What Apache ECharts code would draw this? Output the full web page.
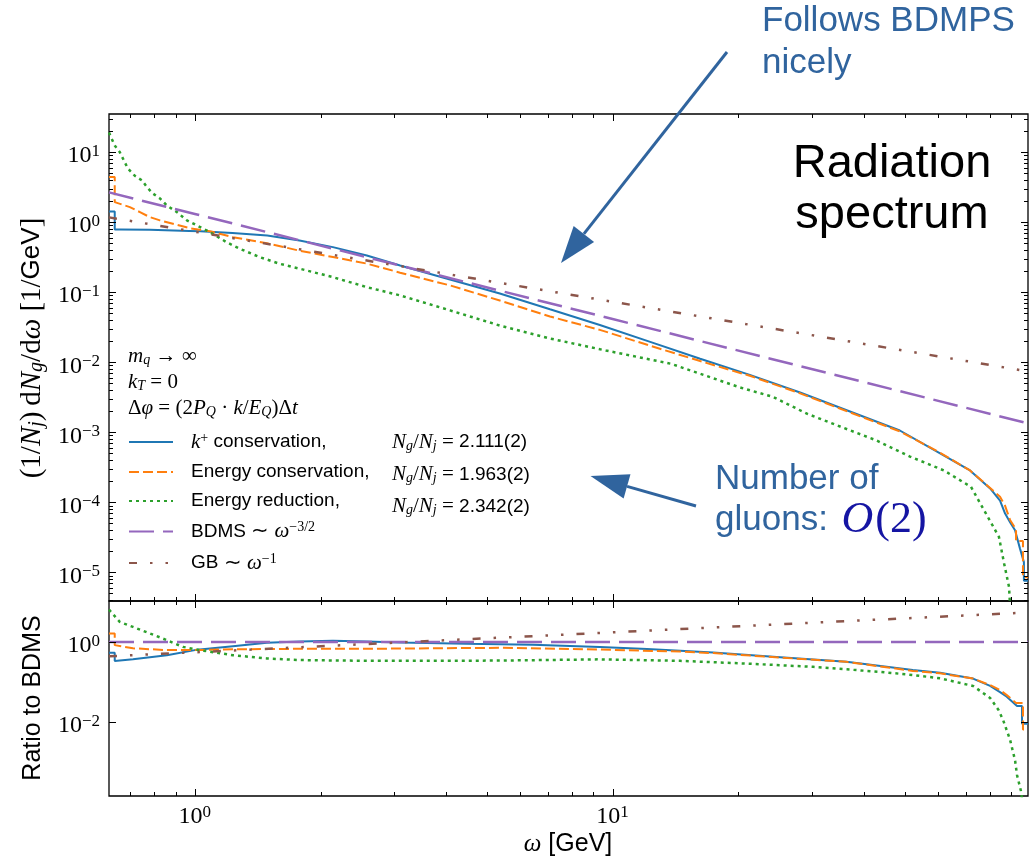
<!DOCTYPE html>
<html>
<head>
<meta charset="utf-8">
<title>Radiation spectrum</title>
<script src="https://cdn.jsdelivr.net/npm/echarts@6/dist/echarts.min.js"></script>
<style>
html, body { margin: 0; padding: 0; background: #fff; }
#container { width: 1036px; height: 859px; }
</style>
</head>
<body>
<div id="container"></div>
<script>
var dom = document.getElementById("container");
var myChart = echarts.init(dom);

// axis ranges
var omegaMin = 0.623, omegaMax = 98.7;
var specMin = 3.9e-6, specMax = 35;
var ratioMin = 1.4e-4, ratioMax = 10.7;

// labelled ticks
var omegaTicks = [1, 10];
var specTicks = [1e-5, 1e-4, 1e-3, 1e-2, 1e-1, 1, 10];
var ratioTicks = [1e-2, 1];
var minorSubs = [2, 3, 4, 5, 6, 7, 8, 9];
var omegaDecades = [0.1, 1, 10];
var specDecades = [1e-6, 1e-5, 1e-4, 1e-3, 1e-2, 1e-1, 1, 10];

// spectrum panel  (omega in GeV, value in 1/GeV)
var blueOmega = [0.623, 0.643, 0.643, 0.661, 0.78, 0.97, 1.03, 1.23, 1.49, 1.78, 2.14, 2.58, 3.1, 4.08, 5.37, 7.08, 9.32, 12.3, 16.2, 21.3, 28.1, 37, 48.7, 60.8, 71.7, 80.1, 84.6, 87, 89.4, 91.9, 94.4, 96.5, 96.5, 98.7];
var blueSpec = [1.42, 1.42, 0.786, 0.786, 0.78, 0.75, 0.74, 0.70, 0.645, 0.548, 0.44, 0.334, 0.24, 0.152, 0.096, 0.057, 0.034, 0.0195, 0.0112, 0.0066, 0.0037, 0.00198, 0.00106, 0.0005, 0.000285, 0.000158, 0.000106, 0.000069, 0.000052, 0.00004, 0.000022, 0.000014, 0.0000076, 0.0000076];

var orangeOmega = [0.623, 0.643, 0.643, 0.699, 0.739, 0.78, 0.825, 0.886, 0.973, 1.086, 1.233, 1.487, 1.784, 2.14, 2.58, 3.1, 4.08, 5.37, 7.08, 9.32, 12.3, 16.2, 21.3, 28.1, 37, 48.7, 60.8, 71.7, 80.1, 84.6, 87, 89.4, 92.4, 92.4, 96, 96, 98.7];
var orangeSpec = [4.4, 4.4, 1.93, 1.64, 1.39, 1.18, 1.06, 0.95, 0.82, 0.74, 0.61, 0.50, 0.39, 0.318, 0.256, 0.19, 0.125, 0.076, 0.045, 0.029, 0.0172, 0.0104, 0.0064, 0.0036, 0.00192, 0.00103, 0.00051, 0.000285, 0.00016, 0.00012, 0.000089, 0.000056, 0.000041, 0.000028, 0.000028, 0.0000085, 0.0000085];

var greenOmega = [0.623, 0.643, 0.661, 0.691, 0.718, 0.747, 0.768, 0.793, 0.825, 0.857, 0.906, 0.957, 1.011, 1.086, 1.191, 1.281, 1.431, 1.598, 1.784, 2.14, 2.58, 3.1, 4.08, 5.37, 7.08, 9.64, 13.8, 20.1, 24.2, 29.2, 35.4, 42.7, 51.5, 62.1, 72.1, 79.2, 84.1, 86.5, 88.9, 90.4];
var greenSpec = [19, 12.4, 10, 5.85, 4.6, 3.95, 3.16, 2.57, 2.18, 1.73, 1.39, 1.06, 0.9, 0.72, 0.518, 0.417, 0.316, 0.254, 0.216, 0.164, 0.118, 0.09, 0.055, 0.0334, 0.0218, 0.0147, 0.0095, 0.0044, 0.0032, 0.00184, 0.00118, 0.00077, 0.00045, 0.000285, 0.000166, 0.000061, 0.000032, 0.0000135, 0.0000062, 0.000001];

var bdmsOmega = [0.623, 1, 10, 98.7];
var bdmsSpec = [2.66, 1.31, 0.0414, 0.00134];
var gbOmega = [0.623, 1, 10, 98.7];
var gbSpec = [1.17, 0.73, 0.073, 0.0074];

// ratio panel
var blueRatioOmega = [0.623, 0.643, 0.643, 0.711, 0.857, 1.0, 1.233, 1.487, 1.784, 2.14, 2.58, 3.1, 4.47, 6.44, 9.32, 12.09, 17.4, 25.2, 36.3, 52.3, 60.8, 72.9, 80.1, 84.6, 87.8, 92.9, 95.5, 95.5, 98.7];
var blueRatio = [0.54, 0.54, 0.335, 0.37, 0.47, 0.63, 0.79, 0.96, 1.04, 1.08, 1.04, 0.98, 0.91, 0.86, 0.75, 0.67, 0.55, 0.42, 0.32, 0.2, 0.17, 0.122, 0.08, 0.056, 0.043, 0.025, 0.025, 0.009, 0.009];

var orangeRatioOmega = [0.623, 0.643, 0.643, 0.711, 0.857, 1.0, 1.233, 1.784, 2.58, 3.71, 5.37, 9.32, 14.5, 17.4, 25.2, 36.3, 52.3, 60.8, 72.9, 80.1, 84.6, 87.8, 92.4, 96, 96, 98.7];
var orangeRatio = [1.65, 1.65, 0.84, 0.70, 0.63, 0.63, 0.66, 0.68, 0.68, 0.70, 0.72, 0.65, 0.58, 0.53, 0.41, 0.32, 0.19, 0.165, 0.122, 0.084, 0.063, 0.047, 0.03, 0.03, 0.0065, 0.0065];

var greenRatioOmega = [0.623, 0.661, 0.711, 0.78, 0.857, 0.936, 1.028, 1.233, 1.487, 1.784, 2.58, 3.71, 5.37, 9.32, 14.5, 20.9, 30.2, 43.6, 52.3, 60.8, 72.9, 80.1, 83.9, 86.1, 89.4, 91.9, 92.9, 94.9, 96.0];
var greenRatio = [6.5, 3.2, 2.4, 1.65, 1.12, 0.76, 0.63, 0.47, 0.39, 0.355, 0.34, 0.34, 0.345, 0.37, 0.34, 0.29, 0.24, 0.18, 0.15, 0.124, 0.08, 0.04, 0.02, 0.011, 0.0036, 0.0011, 0.00047, 0.00019, 0.00008];

var bdmsRatio = [1, 1, 1, 1];
var gbRatio = [0.44, 0.557, 1.76, 5.53];

var names = ['k+ conservation', 'Energy conservation', 'Energy reduction', 'BDMS', 'GB'];
var colors = ['#1f77b4', '#ff7f0e', '#2ca02c', '#9467bd', '#8c564b'];
var dashes = ['solid', [10, 4], [3, 4], [25, 9], [8, 13, 2.5, 13, 2.5, 13]];
var widths = [2, 2, 2.5, 2.5, 2.5];
var ngRatios = ['2.111(2)', '1.963(2)', '2.342(2)'];

var serif = 'Liberation Serif', sans = 'Liberation Sans';
var blueText = '#30649e';

function pts(xs, ys) {
    return xs.map(function (x, i) { return [x, ys[i]]; });
}

function curve(k, panel, xs, ys) {
    return {
        name: names[k],
        type: 'line',
        xAxisIndex: panel,
        yAxisIndex: panel,
        data: pts(xs, ys),
        symbol: 'none',
        showSymbol: false,
        clip: true,
        z: 2 + k,
        lineStyle: {color: colors[k], width: widths[k], type: dashes[k]},
        itemStyle: {color: colors[k]}
    };
}

// rich text styles; both color and fill so they work in labels and in graphic texts
function st(o) {
    o.color = o.color || '#000';
    o.fill = o.color;
    return o;
}
function mathRich(size, sfSize, line) {
    return {
        g: st({width: 13}),
        sf: st({fontFamily: sans, fontSize: sfSize, lineHeight: line}),
        rm: st({fontFamily: serif, fontSize: size, lineHeight: line}),
        mi: st({fontFamily: serif, fontStyle: 'italic', fontSize: size, lineHeight: line}),
        sup: st({fontFamily: serif, fontSize: Math.round(size * 0.68), lineHeight: 6, verticalAlign: 'top'}),
        sub: st({fontFamily: serif, fontStyle: 'italic', fontSize: Math.round(size * 0.68), lineHeight: 10, verticalAlign: 'bottom'})
    };
}
var legendRich = mathRich(21, 19, 22);
var titleRich = mathRich(25, 25, 28);
var yTitleRich = mathRich(29, 26, 30);
var tickRich = {
    b: st({fontFamily: serif, fontSize: 24, lineHeight: 26}),
    e: st({fontFamily: serif, fontSize: 17, lineHeight: 6, verticalAlign: 'top'})
};

function powerLabel(list) {
    return function (v) {
        var e = Math.log10(v);
        for (var i = 0; i < list.length; i++) {
            var n = Math.round(Math.log10(list[i]));
            if (Math.abs(e - n) < 1e-6) {
                return '{b|10}{e|' + (n < 0 ? '\u2212' + (-n) : n) + '}';
            }
        }
        return '';
    };
}

function minorTicks(decades, lo, hi) {
    var out = [];
    decades.forEach(function (d) {
        minorSubs.forEach(function (s) {
            var v = s * d;
            if (v > lo && v < hi) out.push(v);
        });
    });
    return out;
}

// ticks drawn inward on all four sides of a panel
function tickSeries(panel, yMajor, yMinor) {
    var data = [];
    omegaTicks.forEach(function (v) { data.push([v, 1, 0]); });
    minorTicks(omegaDecades, omegaMin, omegaMax).forEach(function (v) { data.push([v, 1, 1]); });
    yMajor.forEach(function (v) { data.push([1, v, 2]); });
    yMinor.forEach(function (v) { data.push([1, v, 3]); });
    return {
        type: 'custom',
        name: 'ticks' + panel,
        xAxisIndex: panel,
        yAxisIndex: panel,
        silent: true,
        z: 20,
        data: data,
        renderItem: function (params, api) {
            var cs = params.coordSys;
            var kind = api.value(2);
            var len = (kind === 0 || kind === 2) ? 7 : 4;
            var p = api.coord([api.value(0), api.value(1)]);
            var segs;
            if (kind < 2) {
                var x = Math.round(p[0]) + 0.5;
                segs = [[x, cs.y + cs.height, x, cs.y + cs.height - len], [x, cs.y, x, cs.y + len]];
            } else {
                var y = Math.round(p[1]) + 0.5;
                segs = [[cs.x, y, cs.x + len, y], [cs.x + cs.width, y, cs.x + cs.width - len, y]];
            }
            return {
                type: 'group',
                children: segs.map(function (s) {
                    return {type: 'line', shape: {x1: s[0], y1: s[1], x2: s[2], y2: s[3]}, style: {stroke: '#000', lineWidth: 1}};
                })
            };
        }
    };
}

var legendLabels = {};
legendLabels[names[0]] = '{g|\u00a0}{mi|k}{sup|+}{sf| conservation,}';
legendLabels[names[1]] = '{g|\u00a0}{sf|Energy conservation,}';
legendLabels[names[2]] = '{g|\u00a0}{sf|Energy reduction,}';
legendLabels[names[3]] = '{g|\u00a0}{sf|BDMS }{rm|\u223c }{mi|\u03c9}{sup|\u22123/2}';
legendLabels[names[4]] = '{g|\u00a0}{sf|GB }{rm|\u223c }{mi|\u03c9}{sup|\u22121}';

function mathText(x, y, text, align) {
    return {
        type: 'text', x: x, y: y, silent: true,
        style: {text: text, rich: legendRich, align: align || 'left', verticalAlign: 'middle', fill: '#000'}
    };
}

function arrow(x1, y1, tipX, tipY, headLen, headHalf) {
    var dx = tipX - x1, dy = tipY - y1;
    var l = Math.sqrt(dx * dx + dy * dy);
    var ux = dx / l, uy = dy / l;
    var bx = tipX - ux * headLen, by = tipY - uy * headLen;
    return [
        {type: 'line', silent: true, shape: {x1: x1, y1: y1, x2: bx, y2: by}, style: {stroke: blueText, lineWidth: 3}},
        {type: 'polygon', silent: true, shape: {points: [[tipX, tipY], [bx - uy * headHalf, by + ux * headHalf], [bx + uy * headHalf, by - ux * headHalf]]}, style: {fill: blueText}}
    ];
}

var graphics = [
    {
        type: 'text', x: 32, y: 348, rotation: Math.PI / 2, silent: true,
        style: {
            text: '{rm|(1/}{mi|N}{sub|j}{rm|)\u2009d}{mi|N}{sub|g}{rm|/d}{mi|\u03c9}{rm| [1/}{sf|GeV}{rm|]}',
            rich: yTitleRich, align: 'center', verticalAlign: 'middle'
        }
    },
    {
        type: 'text', x: 33, y: 698, rotation: Math.PI / 2, silent: true,
        style: {text: '{sf|Ratio to BDMS}', rich: titleRich, align: 'center', verticalAlign: 'middle'}
    },
    {
        type: 'text', x: 568, y: 844, silent: true,
        style: {text: '{mi|\u03c9}{sf| [GeV]}', rich: titleRich, align: 'center', verticalAlign: 'middle'}
    },
    mathText(128, 356, '{mi|m}{sub|q}{rm| \u2192 \u221e}'),
    mathText(128, 382, '{mi|k}{sub|T}{rm| = 0}'),
    mathText(128, 408, '{rm|\u0394}{mi|\u03c6}{rm| = (2}{mi|P}{sub|Q}{rm| \u00b7 }{mi|k}{rm|/}{mi|E}{sub|Q}{rm|)\u0394}{mi|t}'),
    {
        type: 'text', x: 762, y: 42, silent: true,
        style: {text: 'Follows BDMPS\nnicely', fontFamily: sans, fontSize: 35, lineHeight: 42, fill: blueText, align: 'left', verticalAlign: 'middle'}
    },
    {
        type: 'text', x: 892, y: 190, silent: true,
        style: {text: 'Radiation\nspectrum', fontFamily: sans, fontSize: 47, lineHeight: 51, fill: '#000', align: 'center', verticalAlign: 'middle'}
    },
    {
        type: 'text', x: 715, y: 500, silent: true,
        style: {
            text: '{t|Number of}\n{t|gluons: }{o|O}{p|(2)}',
            align: 'left', verticalAlign: 'middle',
            rich: {
                t: {fontFamily: sans, fontSize: 35, lineHeight: 41, fill: blueText},
                o: {fontFamily: serif, fontStyle: 'italic', fontSize: 44, lineHeight: 41, fill: '#1515a3', padding: [0, 2, 0, 4]},
                p: {fontFamily: serif, fontSize: 44, lineHeight: 41, fill: '#1515a3'}
            }
        }
    }
].concat(arrow(727, 52, 561, 263, 37, 13), arrow(696, 506, 590.5, 476, 38, 12.5));

ngRatios.forEach(function (r, i) {
    graphics.push(mathText(392, 442 + i * 32.3, '{mi|N}{sub|g}{rm|/}{mi|N}{sub|j}{rm| = }{sf|' + r + '}'));
});

var gridStyle = {show: true, borderColor: '#000', borderWidth: 1.3, backgroundColor: 'transparent'};

function xAxisFor(panel, showLabels) {
    return {
        type: 'log', gridIndex: panel, min: omegaMin, max: omegaMax,
        axisLine: {show: false}, axisTick: {show: false}, splitLine: {show: false},
        axisLabel: {
            show: showLabels, formatter: powerLabel(omegaTicks), rich: tickRich,
            margin: 8, showMinLabel: false, showMaxLabel: false
        }
    };
}
function yAxisFor(panel, lo, hi, labels) {
    return {
        type: 'log', gridIndex: panel, min: lo, max: hi,
        axisLine: {show: false}, axisTick: {show: false}, splitLine: {show: false},
        axisLabel: {
            formatter: powerLabel(labels), rich: tickRich, padding: [8, 0, 0, 0],
            margin: 9, showMinLabel: false, showMaxLabel: false
        }
    };
}

option = {
    animation: false,
    backgroundColor: '#ffffff',
    grid: [
        Object.assign({left: 109, top: 114, width: 919, height: 487}, gridStyle),
        Object.assign({left: 109, top: 601, width: 919, height: 195}, gridStyle)
    ],
    xAxis: [xAxisFor(0, false), xAxisFor(1, true)],
    yAxis: [yAxisFor(0, specMin, specMax, specTicks), yAxisFor(1, ratioMin, ratioMax, ratioTicks)],
    legend: {
        data: names,
        orient: 'vertical',
        left: 128,
        top: 431,
        padding: 0,
        itemGap: 10,
        itemWidth: 44,
        itemHeight: 14,
        selectedMode: false,
        itemStyle: {opacity: 0},
        formatter: function (name) { return legendLabels[name]; },
        textStyle: {color: '#000', rich: legendRich}
    },
    graphic: graphics,
    series: [
        curve(0, 0, blueOmega, blueSpec),
        curve(1, 0, orangeOmega, orangeSpec),
        curve(2, 0, greenOmega, greenSpec),
        curve(3, 0, bdmsOmega, bdmsSpec),
        curve(4, 0, gbOmega, gbSpec),
        curve(0, 1, blueRatioOmega, blueRatio),
        curve(1, 1, orangeRatioOmega, orangeRatio),
        curve(2, 1, greenRatioOmega, greenRatio),
        curve(3, 1, bdmsOmega, bdmsRatio),
        curve(4, 1, gbOmega, gbRatio),
        tickSeries(0, specTicks, minorTicks(specDecades, specMin, specMax)),
        tickSeries(1, ratioTicks, [])
    ]
};

if (option && typeof option === "object") {
    myChart.setOption(option, true);
}
</script>
</body>
</html>
